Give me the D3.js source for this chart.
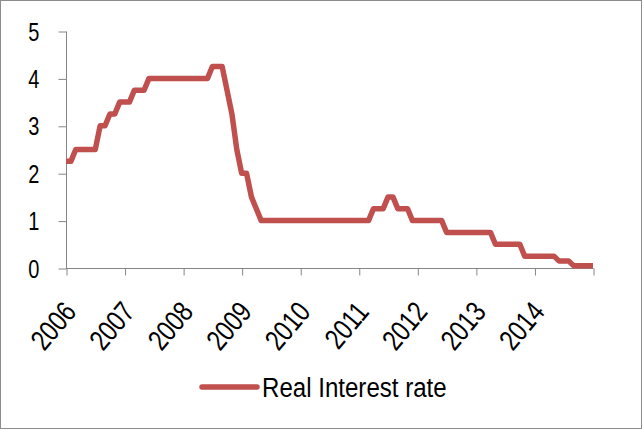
<!DOCTYPE html>
<html lang="en">
<head>
  <meta charset="utf-8">
  <title>Real Interest rate</title>
  <script src="https://cdnjs.cloudflare.com/ajax/libs/d3/7.8.5/d3.min.js"></script>
  <style>
    html, body { margin: 0; padding: 0; background: #fff; }
    text { font-family: "Liberation Sans Narrow", "Arial Narrow", "Liberation Sans", sans-serif; fill: #000; }
  </style>
</head>
<body>
<script>
  // monthly values, Jan 2006 .. Jan 2015 (index 0..108)
  var rate = [
    2.25, 2.25, 2.5, 2.5, 2.5, 2.5, 2.5, 3.0, 3.0, 3.25, 3.25, 3.5,   // 2006
    3.5, 3.5, 3.75, 3.75, 3.75, 4.0, 4.0, 4.0, 4.0, 4.0, 4.0, 4.0,    // 2007
    4.0, 4.0, 4.0, 4.0, 4.0, 4.0, 4.25, 4.25, 4.25, 3.75, 3.25, 2.5,  // 2008
    2.0, 2.0, 1.5, 1.25, 1.0, 1.0, 1.0, 1.0, 1.0, 1.0, 1.0, 1.0,      // 2009
    1.0, 1.0, 1.0, 1.0, 1.0, 1.0, 1.0, 1.0, 1.0, 1.0, 1.0, 1.0,       // 2010
    1.0, 1.0, 1.0, 1.25, 1.25, 1.25, 1.5, 1.5, 1.25, 1.25, 1.25, 1.0, // 2011
    1.0, 1.0, 1.0, 1.0, 1.0, 1.0, 0.75, 0.75, 0.75, 0.75, 0.75, 0.75, // 2012
    0.75, 0.75, 0.75, 0.75, 0.5, 0.5, 0.5, 0.5, 0.5, 0.5, 0.25, 0.25, // 2013
    0.25, 0.25, 0.25, 0.25, 0.25, 0.15, 0.15, 0.15, 0.05, 0.05, 0.05, 0.05, // 2014
    0.05
  ];
  var years = ["2006", "2007", "2008", "2009", "2010", "2011", "2012", "2013", "2014"];
  var yTicks = [0, 1, 2, 3, 4, 5];
  var seriesName = "Real Interest rate";

  var W = 643, H = 430;
  var plotL = 66, plotR = 593, plotT = 31, plotB = 268;
  var lineColor = "#C0504D", axisColor = "#868686";
  // condensed look of the original font
  var squeeze = "scale(0.8,1)";

  var svg = d3.select("body").append("svg")
    .attr("width", W)
    .attr("height", H);

  // outer frame
  svg.append("rect")
    .attr("x", 0.5).attr("y", 0.5)
    .attr("width", W - 2).attr("height", H - 2)
    .attr("fill", "#fff")
    .attr("stroke", "#8c8c8c");

  var x = d3.scaleLinear().domain([0, rate.length - 1]).range([plotL, plotR]);
  var y = d3.scaleLinear().domain([0, 5]).range([plotB, plotT]);

  // y axis
  var yAxis = svg.append("g")
    .attr("transform", "translate(" + (plotL + 0.5) + ",0)")
    .call(d3.axisLeft(y).tickValues(yTicks).tickSize(8).tickFormat(d3.format("d")));
  yAxis.select(".domain").attr("stroke", axisColor).attr("d", "M0," + (plotT + 0.5) + "V" + (plotB + 0.5));
  yAxis.selectAll(".tick line").attr("stroke", axisColor).attr("transform", "translate(0,0.5)");
  yAxis.selectAll(".tick text")
    .attr("x", 0).attr("dy", "0.36em")
    .attr("font-size", 25)
    .attr("transform", "translate(-27,0) " + squeeze)
    .style("font-family", null);

  // x axis: a tick every 12 months, labels for the years
  var xTickVals = d3.range(0, rate.length, 12);
  var xAxis = svg.append("g")
    .attr("transform", "translate(0," + (plotB + 0.5) + ")")
    .call(d3.axisBottom(x).tickValues(xTickVals).tickSize(7).tickFormat(function(d) {
      return years[d / 12] || "";
    }));
  xAxis.select(".domain").attr("stroke", axisColor).attr("d", "M" + plotL + ",0H" + (plotR + 0.5));
  xAxis.selectAll(".tick line").attr("stroke", axisColor).attr("transform", "translate(0.5,0)");
  xAxis.selectAll(".tick text")
    .attr("font-size", 29)
    .attr("text-anchor", "end")
    .attr("y", 0)
    .attr("dy", 0)
    .attr("transform", "translate(11,44) rotate(-50) " + squeeze)
    .style("font-family", null);

  // series
  var line = d3.line()
    .x(function(d, i) { return x(i); })
    .y(function(d) { return y(d); });

  svg.append("path")
    .datum(rate)
    .attr("fill", "none")
    .attr("stroke", lineColor)
    .attr("stroke-width", 5.5)
    .attr("stroke-linejoin", "round")
    .attr("d", line);

  // legend
  var legend = svg.append("g").attr("transform", "translate(202,387)");
  legend.append("line")
    .attr("x1", 0).attr("x2", 55)
    .attr("stroke", lineColor)
    .attr("stroke-width", 5.5)
    .attr("stroke-linecap", "round");
  legend.append("text")
    .attr("dy", "0.36em")
    .attr("font-size", 28)
    .attr("transform", "translate(60,0) scale(0.86,1)")
    .text(seriesName);
</script>
</body>
</html>
